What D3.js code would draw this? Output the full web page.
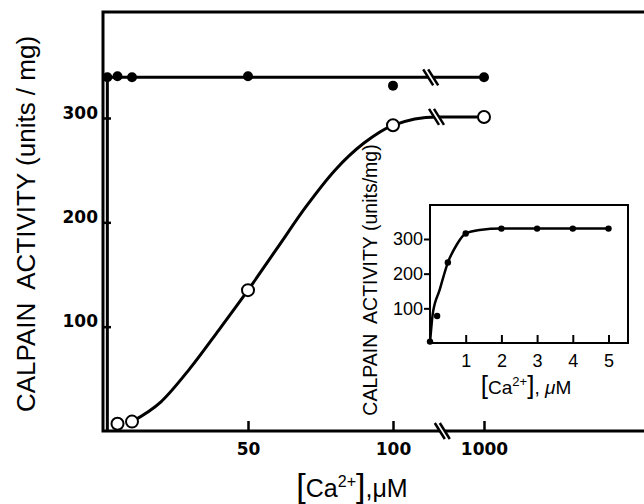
<!DOCTYPE html>
<html>
<head>
<meta charset="utf-8">
<script src="https://cdn.jsdelivr.net/npm/d3@7"></script>
<style>
  body { margin: 0; background: #fff; }
</style>
</head>
<body>
<div id="chart"></div>
<script>
// main panel values
var mainXTicks = [50, 100, 1000];
var mainYTicks = [100, 200, 300];
var filledX = [1.5, 5, 10, 50, 100, 1000];
var filledY = [339, 340, 339, 340, 331, 339];
var filledLineX = [1.5, 1.5, 1000];
var filledLineY = [0, 339, 339];
var openX = [5, 10, 50, 100, 1000];
var openY = [7, 9, 135, 293, 301];
var openLineX = [10, 20, 30, 40, 50, 60, 70, 80, 90, 100, 115, 1000];
var openLineY = [9, 28, 60, 97, 135, 175, 215, 250, 276, 293, 301, 301];

// inset values
var insetXTicks = [1, 2, 3, 4, 5];
var insetYTicks = [100, 200, 300];
var insetX = [0, 0.2, 0.5, 1, 2, 3, 4, 5];
var insetY = [4, 78, 232, 316, 330, 330, 330, 330];
var insetLineX = [0, 0.08, 0.27, 0.5, 0.74, 1, 1.39, 2, 5];
var insetLineY = [0, 86, 153, 232, 282, 316, 326, 330, 330];

var svg = d3.select("#chart")
  .append("svg")
    .attr("width", 644)
    .attr("height", 504)
    .attr("font-family", "Liberation Sans, Arial, sans-serif");

// main scales: linear to ~120, then squeezed after the axis break
var x = d3.scaleLinear()
  .domain([0, 120, 1000])
  .range([103, 451, 484]);
var y = d3.scaleLinear()
  .domain([0, 300])
  .range([431, 118]);

// frame (open on the right, runs off the page)
svg.append("path")
  .attr("d", "M660," + 12 + "H" + x(0) + "V" + y(0) + "H660")
  .attr("fill", "none")
  .attr("stroke", "#000")
  .attr("stroke-width", 3);

// X axis
var gx = svg.append("g")
  .attr("transform", "translate(0," + y(0) + ")")
  .call(d3.axisBottom(x).tickValues(mainXTicks).tickSize(-10).tickPadding(12).tickFormat(d3.format("d")))
  .attr("font-family", "DejaVu Sans")
  .attr("font-weight", "bold")
  .attr("font-size", 17);
gx.select(".domain").remove();
gx.selectAll("line").attr("stroke-width", 2.5);

// Y axis
var gy = svg.append("g")
  .attr("transform", "translate(" + x(0) + ",0)")
  .call(d3.axisLeft(y).tickValues(mainYTicks).tickSize(-8).tickPadding(5))
  .attr("font-family", "DejaVu Sans")
  .attr("font-weight", "bold")
  .attr("font-size", 17);
gy.select(".domain").remove();
gy.selectAll("line").attr("stroke-width", 2.5);
gy.selectAll("text").attr("dy", "0");

// filled series line
svg.append("path")
  .datum(d3.range(filledLineX.length))
  .attr("fill", "none")
  .attr("stroke", "#000")
  .attr("stroke-width", 3)
  .attr("d", d3.line()
    .x(function(i) { return x(filledLineX[i]) })
    .y(function(i) { return y(filledLineY[i]) }));

// open series curve
svg.append("path")
  .datum(d3.range(openLineX.length))
  .attr("fill", "none")
  .attr("stroke", "#000")
  .attr("stroke-width", 3)
  .attr("d", d3.line()
    .curve(d3.curveMonotoneX)
    .x(function(i) { return x(openLineX[i]) })
    .y(function(i) { return y(openLineY[i]) }));

// break marks
function breakMark(cx, cy) {
  var g = svg.append("g").attr("transform", "translate(" + cx + "," + cy + ")");
  g.append("line")
    .attr("x1", -4).attr("y1", -6).attr("x2", 4).attr("y2", 6)
    .attr("stroke", "#fff").attr("stroke-width", 4);
  [-2.5, 2.5].forEach(function(o) {
    g.append("line")
      .attr("x1", o - 5).attr("y1", -8).attr("x2", o + 5).attr("y2", 8)
      .attr("stroke", "#000").attr("stroke-width", 2.5);
  });
}
breakMark(x(113), y(339));
breakMark(x(115), y(301));
breakMark(x(117), y(0));

// points
svg.append("g")
  .selectAll("circle")
  .data(d3.range(filledX.length))
  .enter()
  .append("circle")
    .attr("cx", function(i) { return x(filledX[i]) })
    .attr("cy", function(i) { return y(filledY[i]) })
    .attr("r", 5)
    .attr("fill", "#000");
svg.append("g")
  .selectAll("circle")
  .data(d3.range(openX.length))
  .enter()
  .append("circle")
    .attr("cx", function(i) { return x(openX[i]) })
    .attr("cy", function(i) { return y(openY[i]) })
    .attr("r", 6)
    .attr("fill", "#fff")
    .attr("stroke", "#000")
    .attr("stroke-width", 2);

// axis titles
svg.append("text")
  .attr("transform", "translate(35,224) rotate(-90)")
  .attr("text-anchor", "middle")
  .attr("font-size", 26)
  .style("white-space", "pre")
  .text("CALPAIN  ACTIVITY (units / mg)");

var xt = svg.append("text")
  .attr("x", 352)
  .attr("y", 497)
  .attr("text-anchor", "middle")
  .attr("font-size", 25);
xt.append("tspan").attr("font-size", 34).attr("font-weight", 100).text("[");
xt.append("tspan").text("Ca");
xt.append("tspan").attr("font-size", 16).attr("dy", -10).text("2+");
xt.append("tspan").attr("font-size", 34).attr("dy", 10).text("]");
xt.append("tspan").text(",\u03bcM");

// ---- inset ----
var ix = d3.scaleLinear()
  .domain([0, 5])
  .range([430, 608.5]);
var iy = d3.scaleLinear()
  .domain([0, 300])
  .range([343, 239]);

svg.append("rect")
  .attr("x", ix(0))
  .attr("y", 205)
  .attr("width", 628 - ix(0))
  .attr("height", iy(0) - 205)
  .attr("fill", "#fff")
  .attr("stroke", "#000")
  .attr("stroke-width", 2);

var igx = svg.append("g")
  .attr("transform", "translate(0," + iy(0) + ")")
  .call(d3.axisBottom(ix).tickValues(insetXTicks).tickSize(-8).tickPadding(11).tickFormat(d3.format("d")))
  .attr("font-family", "Liberation Sans")
  .attr("font-size", 18);
igx.select(".domain").remove();
igx.selectAll("line").attr("stroke-width", 2);

var igy = svg.append("g")
  .attr("transform", "translate(" + ix(0) + ",0)")
  .call(d3.axisLeft(iy).tickValues(insetYTicks).tickSize(6).tickPadding(1))
  .attr("font-family", "Liberation Sans")
  .attr("font-size", 18);
igy.select(".domain").remove();
igy.selectAll("line").attr("stroke-width", 2);

svg.append("path")
  .datum(d3.range(insetLineX.length))
  .attr("fill", "none")
  .attr("stroke", "#000")
  .attr("stroke-width", 2.5)
  .attr("d", d3.line()
    .curve(d3.curveMonotoneX)
    .x(function(i) { return ix(insetLineX[i]) })
    .y(function(i) { return iy(insetLineY[i]) }));

svg.append("g")
  .selectAll("circle")
  .data(d3.range(insetX.length))
  .enter()
  .append("circle")
    .attr("cx", function(i) { return ix(insetX[i]) })
    .attr("cy", function(i) { return iy(insetY[i]) })
    .attr("r", 3.2)
    .attr("fill", "#000");

svg.append("text")
  .attr("transform", "translate(377,280) rotate(-90)")
  .attr("text-anchor", "middle")
  .attr("font-size", 19.5)
  .style("white-space", "pre")
  .text("CALPAIN  ACTIVITY (units/mg)");

var ixt = svg.append("text")
  .attr("x", 526)
  .attr("y", 394)
  .attr("text-anchor", "middle")
  .attr("font-size", 19);
ixt.append("tspan").attr("font-size", 26).attr("font-weight", 100).text("[");
ixt.append("tspan").text("Ca");
ixt.append("tspan").attr("font-size", 13).attr("dy", -8).text("2+");
ixt.append("tspan").attr("font-size", 26).attr("dy", 8).text("]");
ixt.append("tspan").text(", ");
ixt.append("tspan").attr("font-style", "italic").text("\u03bc");
ixt.append("tspan").text("M");
</script>
</body>
</html>
